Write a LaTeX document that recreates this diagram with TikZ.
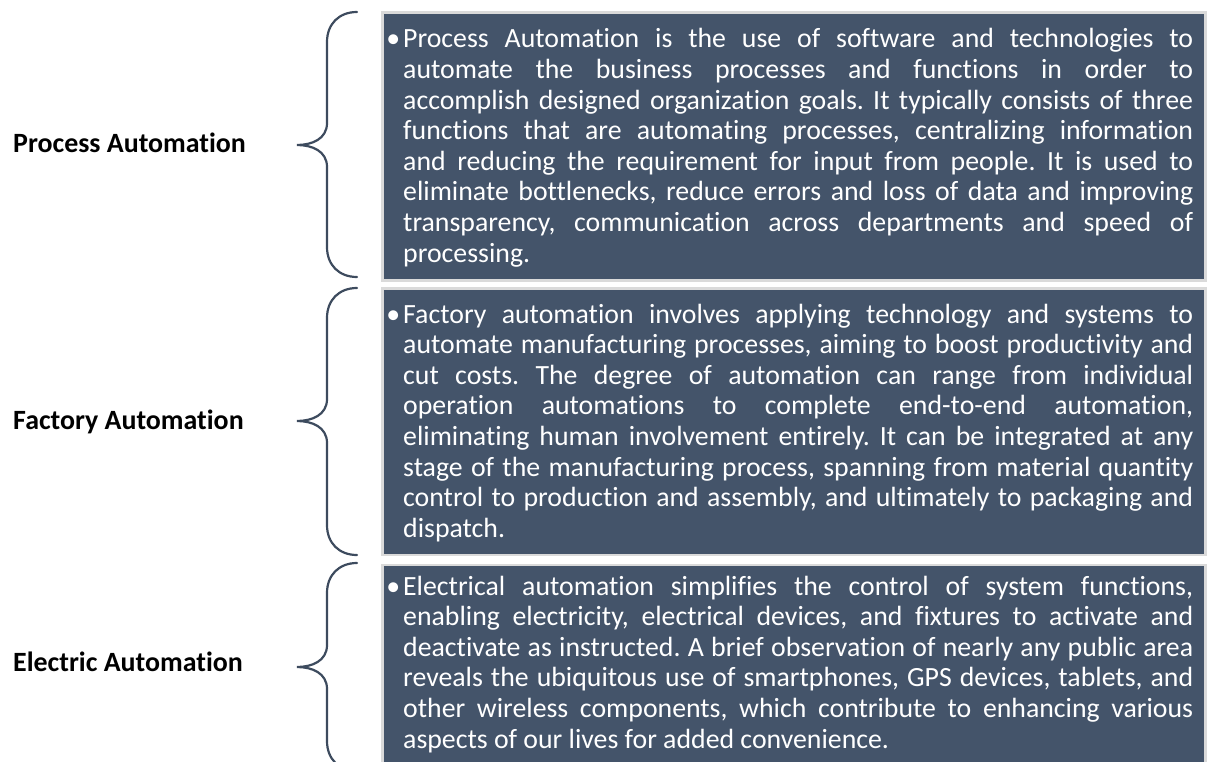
\documentclass[tikz,border=0pt]{standalone}
\usepackage{fontspec}
\setmainfont{Carlito}[Ligatures=NoCommon]
\frenchspacing
\definecolor{panelfill}{HTML}{44546A}
\definecolor{panelrim}{HTML}{DADADA}
\definecolor{bracecol}{HTML}{3D4B5E}

\tikzset{
  panel/.style={anchor=north west, fill=panelfill, draw=panelrim, line width=2.5pt,
    minimum width=823pt, inner sep=0pt},
  tag/.style={anchor=base west, inner sep=0pt, text=black,
    font=\fontsize{27.9}{30}\selectfont\bfseries},
  body/.style={anchor=base west, inner sep=0pt, text=white,
    font=\fontsize{27.8}{30.6}\selectfont},
  bracket/.style={draw=bracecol, line width=2.2pt, line cap=round}
}

% one justified line, and the closing ragged line of a paragraph
\newcommand\jl[1]{\hbox to \linewidth{#1}}
\newcommand\lastl[1]{\hbox to \linewidth{#1\hfil}}
\newcommand\firstjl[1]{\hbox to \linewidth{\llap{\textbullet\hspace{3pt}}#1}}

% curly bracket: top y, tip y, bottom y
\newcommand\curly[3]{%
  \draw[bracket] (357,#1) .. controls (339,#1) and (327,#1+12) .. (327,#1+30)
    -- (327,#2-22) .. controls (327,#2-6) and (312,#2) .. (297,#2)
    .. controls (312,#2) and (327,#2+6) .. (327,#2+22)
    -- (327,#3-30) .. controls (327,#3-12) and (339,#3) .. (357,#3);}

\begin{document}
\begin{tikzpicture}[x=1pt, y=-1pt]
\useasboundingbox (0,0) rectangle (1209,762);
\clip (0,0) rectangle (1209,762);

% panels
\node[panel, minimum height=267.5pt] (p1) at (381,11.5) {};
\node[panel, minimum height=266.5pt] (p2) at (381,287) {};
\node[panel, minimum height=230pt] (p3) at (381,563.5) {};

% category names
\node[tag] (t1) at (13,153) {Process Automation};
\node[tag] (t2) at (13,429) {Factory Automation};
\node[tag] (t3) at (13,671) {Electric Automation};

% brackets
\curly{12}{145}{277}
\curly{288}{421}{555}
\curly{563}{667}{771}

% descriptions
\node[body] (d1) at (403,48) {\parbox[t]{790pt}{%
\firstjl{Process Automation is the use of software and technologies to}
\jl{automate the business processes and functions in order to}
\jl{accomplish designed organization goals. It typically consists of three}
\jl{functions that are automating processes, centralizing information}
\jl{and reducing the requirement for input from people. It is used to}
\jl{eliminate bottlenecks, reduce errors and loss of data and improving}
\jl{transparency, communication across departments and speed of}
\lastl{processing.}}};

\node[body] (d2) at (403,323) {\parbox[t]{790pt}{%
\firstjl{Factory automation involves applying technology and systems to}
\jl{automate manufacturing processes, aiming to boost productivity and}
\jl{cut costs. The degree of automation can range from individual}
\jl{operation automations to complete end-to-end automation,}
\jl{eliminating human involvement entirely. It can be integrated at any}
\jl{stage of the manufacturing process, spanning from material quantity}
\jl{control to production and assembly, and ultimately to packaging and}
\lastl{dispatch.}}};

\node[body] (d3) at (403,595) {\parbox[t]{790pt}{%
\firstjl{Electrical automation simplifies the control of system functions,}
\jl{enabling electricity, electrical devices, and fixtures to activate and}
\jl{deactivate as instructed. A brief observation of nearly any public area}
\jl{reveals the ubiquitous use of smartphones, GPS devices, tablets, and}
\jl{other wireless components, which contribute to enhancing various}
\lastl{aspects of our lives for added convenience.}}};
\end{tikzpicture}
\end{document}
